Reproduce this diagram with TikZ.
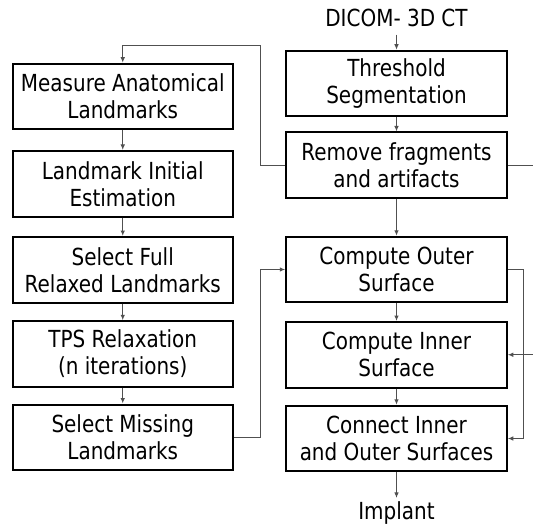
\documentclass[tikz,border=0pt]{standalone}
\usepackage{fontspec}
\setmainfont{DejaVu Sans}[FakeStretch=0.85]
\usetikzlibrary{arrows.meta}
\definecolor{conncol}{RGB}{80,80,80}
\begin{document}
\begin{tikzpicture}[x=1pt,y=-1pt,
  box/.style={draw=black,line width=2pt,minimum width=220.5pt,minimum height=65.5pt,inner sep=0pt,align=center,font=\fontsize{23.5}{27}\selectfont},
  lbl/.style={inner sep=0pt,font=\fontsize{23.5}{27}\selectfont},
  conn/.style={draw=conncol,line width=1pt},
  arr/.style={conn,-{Latex[length=5.5pt,width=4.5pt]}}]
\useasboundingbox (0,0) rectangle (533,524);
% left column
\node[box] (measure) at (122.75,96.5) {Measure Anatomical\\Landmarks};
\node[box] (initial) at (122.75,183.75) {Landmark Initial\\Estimation};
\node[box] (full) at (122.75,269.75) {Select Full\\Relaxed Landmarks};
\node[box] (tps) at (122.75,354) {TPS Relaxation\\(n iterations)};
\node[box] (missing) at (122.75,437.25) {Select Missing\\Landmarks};
% right column
\node[box] (thresh) at (396.5,83.5) {Threshold\\Segmentation};
\node[box] (remove) at (396.5,165.25) {Remove fragments\\and artifacts};
\node[box] (outer) at (396.5,269.5) {Compute Outer\\Surface};
\node[box] (inner) at (396.5,354.75) {Compute Inner\\Surface};
\node[box] (connect) at (396.5,438.5) {Connect Inner\\and Outer Surfaces};
% terminals
\node[lbl,anchor=base] (dicom) at (396.5,27) {DICOM- 3D CT};
\node[lbl,anchor=base] (implant) at (396.5,519) {Implant};
% helper coordinates
\coordinate (lt) at (260,45.7);
\coordinate (re) at (533,165.25);
\coordinate (j2) at (260,269.5);
\coordinate (j3) at (523.5,269.5);
\coordinate (ie) at (533,354.75);
% column arrows
\draw[arr] (measure) -- (initial);
\draw[arr] (initial) -- (full);
\draw[arr] (full) -- (tps);
\draw[arr] (tps) -- (missing);
\draw[arr,shorten <=7pt] (dicom.south) -- (thresh.north);
\draw[arr] (thresh) -- (remove);
\draw[arr] (remove) -- (outer);
\draw[arr] (outer) -- (inner);
\draw[arr] (inner) -- (connect);
\draw[arr,shorten >=3pt] (connect.south) -- (implant.north);
% routing connectors
\draw[arr] (remove.west) -| (lt) -| (measure.north);
\draw[conn] (remove.east) -- (re);
\draw[arr] (missing.east) -| (j2) -- (outer.west);
\draw[arr] (outer.east) -- (j3) |- (connect.east);
\draw[arr] (ie) -- (inner.east);
\end{tikzpicture}
\end{document}
